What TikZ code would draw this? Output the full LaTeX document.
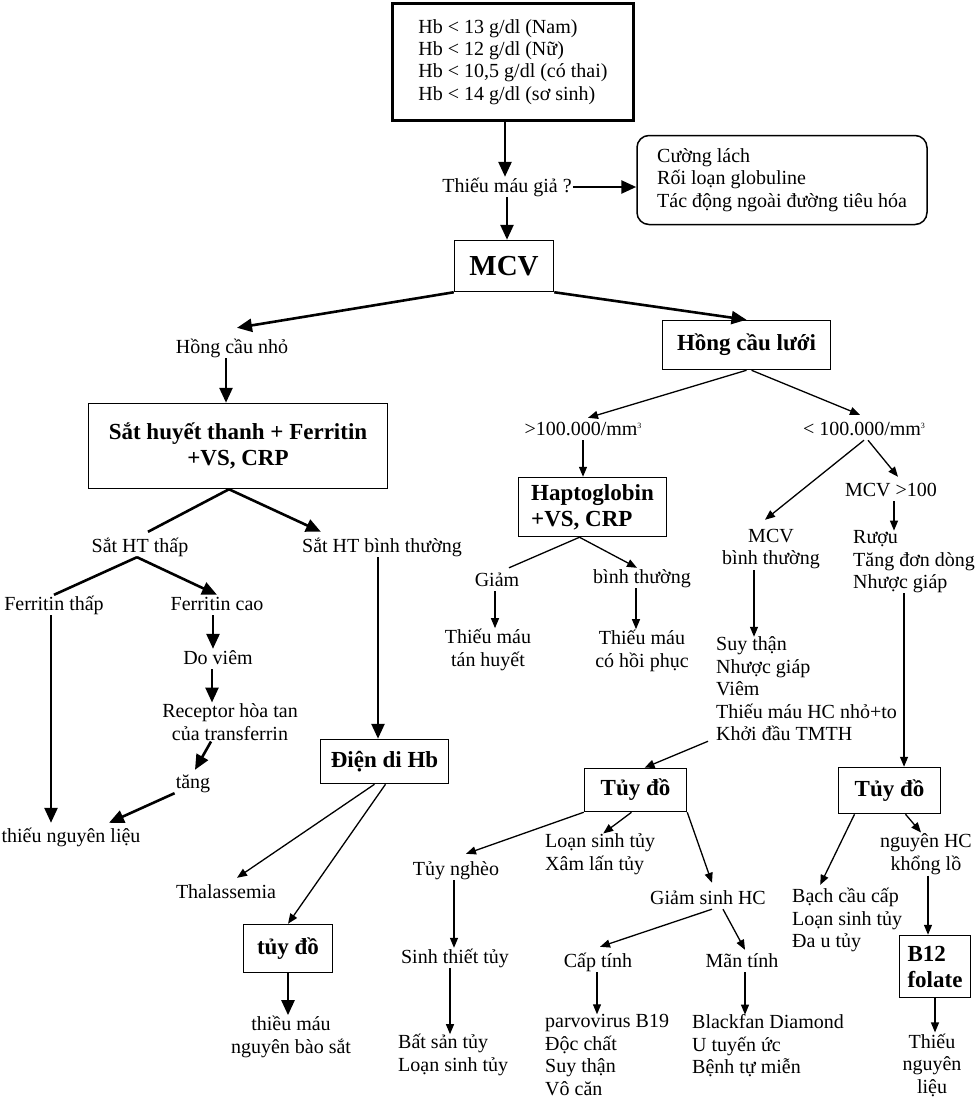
\documentclass[tikz,border=0pt]{standalone}
\usepackage{fontspec}
\setmainfont{Liberation Serif}
\usetikzlibrary{arrows.meta}
\newcommand{\cube}{\raisebox{7pt}{\fontsize{8}{8}\selectfont 3}}

\begin{document}
\begin{tikzpicture}[x=1pt,y=-1pt,
  txt/.style={font=\fontsize{20}{22.5}\selectfont, inner sep=1pt, text height=14pt, text depth=4pt},
  mtxt/.style={font=\fontsize{20}{22.5}\selectfont, inner sep=1pt, align=center},
  lst/.style={font=\fontsize{20}{22.5}\selectfont, inner sep=0pt, align=left, anchor=west},
  hbox/.style={draw, line width=1.5pt, inner sep=0pt, font=\bfseries\fontsize{23}{26}\selectfont},
  bigarrow/.style={-{Triangle[length=15pt,width=13pt]}, line width=2.6pt},
  smallarrow/.style={-{Triangle[length=10pt,width=8pt]}, line width=1.3pt},
  bigline/.style={line width=2.6pt},
  smallline/.style={line width=1.3pt}]
\useasboundingbox (0,0) rectangle (975,1098);

\node[draw, line width=3pt, minimum width=241pt, minimum height=117pt, align=left,
  font=\fontsize{20}{22.4}\selectfont] (hb) at (513,62)
  {Hb < 13 g/dl (Nam)\\Hb < 12 g/dl (Nữ)\\Hb < 10,5 g/dl (có thai)\\Hb < 14 g/dl (sơ sinh)};
\node[txt] (gia) at (507,187) {Thiếu máu giả ?};
\node[draw, line width=1.5pt, rounded corners=12pt, minimum width=290pt, minimum height=89pt, align=left,
  font=\fontsize{20}{22.5}\selectfont] (ngoai) at (782,180)
  {Cường lách\\Rối loạn globuline\\Tác động ngoài đường tiêu hóa};
\node[hbox, minimum width=99pt, minimum height=51pt, font=\bfseries\fontsize{29}{32}\selectfont] (mcv) at (504,266) {MCV};

\node[txt] (hcn) at (232,348) {Hồng cầu nhỏ};
\node[hbox, minimum width=299pt, minimum height=85pt, align=center] (sat) at (238,446)
  {Sắt huyết thanh + Ferritin\\+VS, CRP};
\node[txt] (satthap) at (140,547) {Sắt HT thấp};
\node[txt] (satbt) at (382,547) {Sắt HT bình thường};
\node[txt] (ferthap) at (54,605) {Ferritin thấp};
\node[txt] (fercao) at (217,605) {Ferritin cao};
\node[txt] (doviem) at (218,659) {Do viêm};
\node[mtxt] (receptor) at (230,722) {Receptor hòa tan\\của transferrin};
\node[txt] (tang) at (193,783) {tăng};
\node[txt] (thieunl) at (71,837) {thiếu nguyên liệu};
\node[hbox, minimum width=128pt, minimum height=44pt] (dienhb) at (384.5,761.5) {Điện di Hb};
\node[txt] (thal) at (226,893) {Thalassemia};
\node[hbox, minimum width=89pt, minimum height=48pt] (tuydoa) at (288,948.5) {tủy đồ};
\node[mtxt] (nbs) at (291,1037) {thiều máu\\nguyên bào sắt};

\node[hbox, minimum width=168pt, minimum height=49pt] (hcl) at (746.5,345) {Hồng cầu lưới};
\node[txt] (tren) at (583,430) {>100.000/mm\cube};
\node[txt] (duoi) at (864,430) {< 100.000/mm\cube};
\node[hbox, minimum width=148pt, minimum height=59pt, align=left] (hapto) at (592.5,507)
  {Haptoglobin\\+VS, CRP};
\node[txt] (giam) at (497,581) {Giảm};
\node[txt] (hapbt) at (642,578) {bình thường};
\node[mtxt] (tanhuyet) at (488,650) {Thiếu máu\\tán huyết};
\node[mtxt] (hoiphuc) at (642,651) {Thiếu máu\\có hồi phục};
\node[mtxt] (mcvbt) at (771,549) {MCV\\bình thường};
\node[txt] (mcvto) at (891,491) {MCV >100};
\node[lst] (ruou) at (853,562) {Rượu\\Tăng đơn dòng\\Nhược giáp};
\node[lst] (suythan) at (716,689) {Suy thận\\Nhược giáp\\Viêm\\Thiếu máu HC nhỏ+to\\Khởi đầu TMTH};

\node[hbox, minimum width=102pt, minimum height=43pt] (tuydob) at (635.5,790) {Tủy đồ};
\node[txt] (ngheo) at (456,870) {Tủy nghèo};
\node[lst] (xamlan) at (545,854) {Loạn sinh tủy\\Xâm lấn tủy};
\node[txt] (giamsinh) at (708,899) {Giảm sinh HC};
\node[txt] (sinhthiet) at (455,958) {Sinh thiết tủy};
\node[lst] (batsan) at (398,1055) {Bất sản tủy\\Loạn sinh tủy};
\node[txt] (cap) at (598,962) {Cấp tính};
\node[txt] (man) at (742,962) {Mãn tính};
\node[lst] (parvo) at (545,1055) {parvovirus B19\\Độc chất\\Suy thận\\Vô căn};
\node[lst] (blackfan) at (692,1046) {Blackfan Diamond\\U tuyến ức\\Bệnh tự miễn};

\node[hbox, minimum width=102pt, minimum height=46pt] (tuydoc) at (889.5,790.5) {Tủy đồ};
\node[lst] (bachcau) at (792,920) {Bạch cầu cấp\\Loạn sinh tủy\\Đa u tủy};
\node[mtxt] (khongl) at (926,854) {nguyên HC\\khổng lồ};
\node[hbox, minimum width=71pt, minimum height=62pt, align=left] (b12) at (935,966.5) {B12\\folate};
\node[mtxt] (thieunlb) at (932,1065) {Thiếu\\nguyên\\liệu};

\draw[bigarrow] ([xshift=-2pt]gia.north |- hb.south) -- ([xshift=-2pt]gia.north);
\draw[bigarrow] (gia.east) -- (gia.east -| ngoai.west);
\draw[bigarrow] (gia.south) -- (gia.south |- mcv.north);
\draw[bigarrow] (mcv.south west) -- ([xshift=5pt,yshift=10pt]hcn.north);
\draw[bigarrow] (mcv.south east) -- (hcl.north);
\draw[bigarrow] ([xshift=-6pt]hcn.south) -- ([xshift=-6pt]hcn.south |- sat.north);
\draw[bigline] ([xshift=-9pt]sat.south) -- ([xshift=8pt,yshift=5pt]satthap.north);
\draw[bigarrow] ([xshift=-9pt]sat.south) -- ([xshift=20pt,yshift=5pt]satbt.north west);
\draw[bigline] ([xshift=-3pt]satthap.south) -- (ferthap.north);
\draw[bigarrow] ([xshift=-3pt]satthap.south) -- (fercao.north);
\draw[bigarrow] ([xshift=-4pt]fercao.south) -- ([xshift=-4pt]fercao.south |- doviem.north);
\draw[bigarrow] ([xshift=-6pt]doviem.south) -- ([xshift=-6pt]doviem.south |- receptor.north);
\draw[bigarrow] ([xshift=-19pt]receptor.south) -- ([xshift=2pt,yshift=3pt]tang.north);
\draw[bigarrow] (tang.south west) -- ([xshift=38pt,yshift=4pt]thieunl.north);
\draw[bigarrow] ([xshift=-3pt]ferthap.south) -- ([xshift=-3pt,yshift=4pt]ferthap.south |- thieunl.north);
\draw[bigarrow] ([xshift=-4pt]satbt.south) -- ([xshift=-4pt]satbt.south |- dienhb.north);
\draw[smallarrow] ([xshift=-10pt]dienhb.south) -- ([xshift=11pt,yshift=5pt]thal.north);
\draw[smallarrow] ([xshift=1pt]dienhb.south) -- (tuydoa.north);
\draw[bigarrow] (tuydoa.south) -- (tuydoa.south |- nbs.north);

\draw[smallarrow] (hcl.south) -- ([xshift=5pt,yshift=2pt]tren.north);
\draw[smallarrow] ([xshift=5pt]hcl.south) -- ([xshift=-4pt,yshift=5pt]duoi.north);
\draw[smallarrow] (tren.south) -- (tren.south |- hapto.north);
\draw[smallline] ([xshift=-13pt]hapto.south) -- ([xshift=12pt,yshift=3pt]giam.north);
\draw[smallarrow] ([xshift=-13pt]hapto.south) -- ([xshift=-5pt]hapbt.north);
\draw[smallarrow] ([xshift=-2pt]giam.south) -- ([xshift=-2pt]giam.south |- tanhuyet.north);
\draw[smallarrow] ([xshift=-6pt]hapbt.south) -- ([xshift=-6pt]hapbt.south |- hoiphuc.north);
\draw[smallarrow] (duoi.south) -- ([xshift=-6pt,yshift=8pt]mcvbt.north);
\draw[smallarrow] ([xshift=4pt]duoi.south) -- ([xshift=7pt,yshift=4pt]mcvto.north);
\draw[smallarrow] ([xshift=3pt]mcvto.south) -- ([xshift=3pt]mcvto.south |- ruou.north);
\draw[smallarrow] ([xshift=-17pt]mcvbt.south) -- ([xshift=-17pt]mcvbt.south |- suythan.north);
\draw[smallarrow] ([xshift=-10pt]ruou.south) -- ([xshift=-10pt]ruou.south |- tuydoc.north);
\draw[smallarrow] ([xshift=-8pt]suythan.south west) -- ([xshift=9pt]tuydob.north);

\draw[smallarrow] (tuydob.south west) -- ([xshift=10pt,yshift=6pt]ngheo.north);
\draw[smallarrow] ([xshift=-4pt]tuydob.south) -- ([xshift=3pt]xamlan.north);
\draw[smallarrow] (tuydob.south east) -- ([xshift=4pt,yshift=6pt]giamsinh.north);
\draw[smallarrow] ([xshift=-2pt]ngheo.south) -- ([xshift=-2pt]ngheo.south |- sinhthiet.north);
\draw[smallarrow] ([xshift=-5pt]sinhthiet.south) -- ([xshift=-5pt]sinhthiet.south |- batsan.north);
\draw[smallarrow] ([xshift=4pt]giamsinh.south) -- ([xshift=2pt,yshift=5pt]cap.north);
\draw[smallarrow] ([xshift=15pt]giamsinh.south) -- ([xshift=3pt,yshift=2pt]man.north);
\draw[smallarrow] ([xshift=-1pt]cap.south) -- ([xshift=-1pt]cap.south |- parvo.north);
\draw[smallarrow] ([xshift=3pt]man.south) -- ([xshift=3pt]man.south |- blackfan.north);
\draw[smallarrow] ([xshift=-35pt]tuydoc.south) -- ([xshift=-27pt,yshift=3pt]bachcau.north);
\draw[smallarrow] ([xshift=16pt]tuydoc.south) -- ([xshift=-5pt]khongl.north);
\draw[smallarrow] ([xshift=2pt]khongl.south) -- ([xshift=2pt]khongl.south |- b12.north);
\draw[smallarrow] (b12.south) -- (b12.south |- thieunlb.north);
\end{tikzpicture}
\end{document}
